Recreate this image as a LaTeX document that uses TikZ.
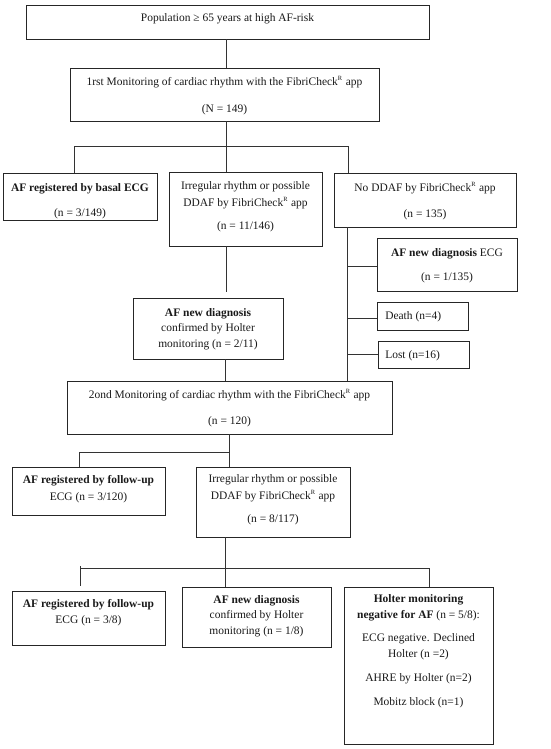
\documentclass[tikz,border=0pt]{standalone}
\usepackage{fontspec}
\setmainfont{Liberation Serif}
\usetikzlibrary{fit}
\tikzset{
  box/.style={draw=black!85, line width=0.6pt, inner sep=0pt},
  txt/.style={align=center, font=\fontsize{8.6}{10}\selectfont, inner sep=0pt, text=black!90, yshift=-1.1pt},
  txtl/.style={txt, anchor=west},
  ln/.style={draw=black!80, line width=0.6pt}
}
\newcommand\mkbox[5]{\node[box, fit={(#2,#3) (#4,#5)}] (#1) {};}
\newcommand\putline[4]{\node[txt] (#1) at (#2,#3) {#4};}
\newcommand\FC{FibriCheck\textsuperscript{\scalebox{0.8}{R}}}
\begin{document}
\begin{tikzpicture}[x=0.75pt,y=-0.75pt]
\useasboundingbox (0,0) rectangle (550,749);
% boxes
\mkbox{b1}{26}{5}{429}{39}
\mkbox{b2}{70}{68}{379}{121}
\mkbox{b3}{3}{173}{157}{220}
\mkbox{b4}{169}{172}{322}{246}
\mkbox{b5}{334}{173}{516}{227}
\mkbox{b6}{377}{238}{517}{291}
\mkbox{b7}{377}{302}{468}{330}
\mkbox{b8}{378}{341}{469}{368}
\mkbox{b9}{133}{298}{283}{359}
\mkbox{b10}{67}{381}{392}{434}
\mkbox{b11}{12}{467}{165}{515}
\mkbox{b12}{196}{467}{350}{537}
\mkbox{b13}{12}{591}{165}{645}
\mkbox{b14}{182}{587}{331}{647}
\mkbox{b15}{344}{587}{493}{744}
% texts
\putline{t1}{227.5}{17}{Population ≥ 65 years at high AF-risk}
\putline{t2a}{224.5}{81}{1rst Monitoring of cardiac rhythm with the \FC{} app}
\putline{t2b}{224.5}{108}{(N = 149)}
\putline{t3a}{80}{187}{\textbf{AF registered by basal ECG}}
\putline{t3b}{80}{212}{(n = 3/149)}
\putline{t4a}{245.5}{185}{Irregular rhythm or possible}
\putline{t4b}{245.5}{202}{DDAF by \FC{} app}
\putline{t4c}{245.5}{225}{(n = 11/146)}
\putline{t5a}{425}{187}{No DDAF by \FC{} app}
\putline{t5b}{425}{213}{(n = 135)}
\putline{t6a}{447}{252}{\textbf{AF new diagnosis} ECG}
\putline{t6b}{447}{276}{(n = 1/135)}
\node[txtl] (t7) at (385,315) {Death (n=4)};
\node[txtl] (t8) at (385,354) {Lost (n=16)};
\putline{t9a}{208}{312}{\textbf{AF new diagnosis}}
\putline{t9b}{208}{327}{confirmed by Holter}
\putline{t9c}{208}{343}{monitoring (n = 2/11)}
\putline{t10a}{229.5}{394}{2ond Monitoring of cardiac rhythm with the \FC{} app}
\putline{t10b}{229.5}{420}{(n = 120)}
\putline{t11a}{88.5}{479}{\textbf{AF registered by follow-up}}
\putline{t11b}{88.5}{496}{ECG (n = 3/120)}
\putline{t12a}{273}{478}{Irregular rhythm or possible}
\putline{t12b}{273}{495}{DDAF by \FC{} app}
\putline{t12c}{273}{518}{(n = 8/117)}
\putline{t13a}{88.5}{603}{\textbf{AF registered by follow-up}}
\putline{t13b}{88.5}{619}{ECG (n = 3/8)}
\putline{t14a}{256.5}{599}{\textbf{AF new diagnosis}}
\putline{t14b}{256.5}{614}{confirmed by Holter}
\putline{t14c}{256.5}{630}{monitoring (n = 1/8)}
\putline{t15a}{418.5}{598}{\textbf{Holter monitoring}}
\putline{t15b}{418.5}{614}{\textbf{negative for AF} (n = 5/8):}
\putline{t15c}{418.5}{637}{ECG negative. Declined}
\putline{t15d}{418.5}{653}{Holter (n =2)}
\putline{t15e}{418.5}{677}{AHRE by Holter (n=2)}
\putline{t15f}{418.5}{701}{Mobitz block (n=1)}
% junction coordinates
\coordinate (j1) at (226,146);
\coordinate (j1l) at (74,146);
\coordinate (j1r) at (348,146);
\coordinate (e4) at (226,292);
\coordinate (j2) at (229,452);
\coordinate (j2l) at (79,452);
\coordinate (j3l) at (80,568);
\coordinate (j3r) at (429,568);
\coordinate (e13) at (80,586);
\coordinate (t3l) at (80,566);
% connectors
\draw[ln] (226,0 |- b1.south) -- (226,0 |- b2.north);
\draw[ln] (226,0 |- b2.south) -- (j1);
\draw[ln] (j1l) -- (j1r);
\draw[ln] (j1l) -- (74,0 |- b3.north);
\draw[ln] (j1) -- (226,0 |- b4.north);
\draw[ln] (j1r) -- (348,0 |- b5.north);
\draw[ln] (347,0 |- b5.south) -- (347,0 |- b10.north);
\draw[ln] (347,266) -- (b6.west |- 347,266);
\draw[ln] (347,318) -- (b7.west |- 347,318);
\draw[ln] (347,354) -- (b8.west |- 347,354);
\draw[ln] (226,0 |- b4.south) -- (e4);
\draw[ln] (225,0 |- b9.south) -- (225,0 |- b10.north);
\draw[ln] (229,0 |- b10.south) -- (j2);
\draw[ln] (j2l) -- (j2);
\draw[ln] (j2l) -- (79,0 |- b11.north);
\draw[ln] (j2) -- (229,0 |- b12.north);
\draw[ln] (225,0 |- b12.south) -- (225,0 |- b14.north);
\draw[ln] (j3l) -- (j3r);
\draw[ln] (t3l) -- (e13);
\draw[ln] (j3r) -- (429,0 |- b15.north);
\end{tikzpicture}
\end{document}
